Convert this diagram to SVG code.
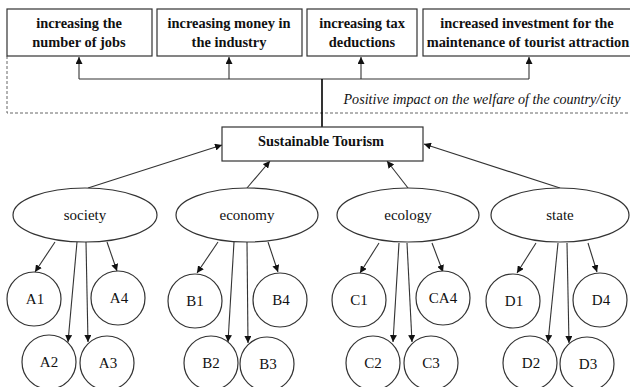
<svg xmlns="http://www.w3.org/2000/svg" width="630" height="387" viewBox="0 0 630 387">
<defs>
<style>
text{font-family:'Liberation Serif','Times New Roman','Tinos','DejaVu Serif',serif}
.box{fill:#fff;stroke:#333;stroke-width:1.2}
.bt{font-size:14.4px;font-weight:bold;text-anchor:middle;fill:#111}
.lt{font-size:15px;text-anchor:middle;fill:#111}
.it{font-size:14.1px;font-style:italic;text-anchor:middle;fill:#111}
.ln{fill:none;stroke:#333;stroke-width:1.1}
.ar{fill:none;stroke:#333;stroke-width:1.1;marker-end:url(#ah)}
</style>
<marker id="ah" viewBox="0 0 10 10" refX="10" refY="5" markerWidth="7" markerHeight="7" markerUnits="userSpaceOnUse" orient="auto">
<path d="M0,0 L10,5 L0,10 z" fill="#111"/>
</marker>
</defs>
<rect width="630" height="387" fill="#fff"/>
<path d="M7,56 V113 H630" fill="none" stroke="#666" stroke-width="1" stroke-dasharray="3,2"/>
<text class="it" x="482" y="104">Positive impact on the welfare of the country/city</text>
<g id="connectors">
<path class="ln" d="M79,79 H529"/>
<path d="M322,127 V79" fill="none" stroke="#000" stroke-width="1.6"/>
<path class="ar" d="M79,79 V57"/>
<path class="ar" d="M229,79 V57"/>
<path class="ar" d="M361,79 V57"/>
<path class="ar" d="M529,79 V57"/>
<path class="ar" d="M88,188 L222,145"/>
<path class="ar" d="M247,188 L270,161"/>
<path class="ar" d="M408,188 L387,161"/>
<path class="ar" d="M560,188 L424,144"/>
<path class="ar" d="M55,242 L35,272"/>
<path class="ar" d="M77,242 L68,342"/>
<path class="ar" d="M86,242 L88,342"/>
<path class="ar" d="M107,242 L117,271"/>
<path class="ar" d="M218,242 L197,273"/>
<path class="ar" d="M234,242 L228,342"/>
<path class="ar" d="M247,242 L248,343"/>
<path class="ar" d="M268,242 L278,272"/>
<path class="ar" d="M379,243 L360,273"/>
<path class="ar" d="M399,243 L393,342"/>
<path class="ar" d="M407,243 L412,342"/>
<path class="ar" d="M432,243 L443,272"/>
<path class="ar" d="M536,243 L517,273"/>
<path class="ar" d="M558,243 L548,342"/>
<path class="ar" d="M567,243 L569,343"/>
<path class="ar" d="M588,243 L597,272"/>
</g>
<g id="jobs"><rect class="box" x="7" y="9" width="145" height="47"/><text class="bt" x="79" y="28">increasing the</text><text class="bt" x="79" y="47">number of jobs</text></g>
<g id="money"><rect class="box" x="157" y="9" width="145" height="47"/><text class="bt" x="229" y="28">increasing money in</text><text class="bt" x="229" y="47">the industry</text></g>
<g id="tax"><rect class="box" x="307" y="9" width="110" height="47"/><text class="bt" x="362" y="28">increasing tax</text><text class="bt" x="362" y="47">deductions</text></g>
<g id="investment"><rect class="box" x="423" y="9" width="210" height="47"/><text class="bt" x="527" y="28">increased investment for the</text><text class="bt" x="528" y="47">maintenance of tourist attraction</text></g>
<g id="tourism"><rect class="box" x="222" y="127" width="201" height="34"/><text class="bt" x="321" y="146">Sustainable Tourism</text></g>
<g id="society"><ellipse class="box" cx="85" cy="215" rx="72" ry="27"/><text class="lt" x="85" y="220">society</text></g>
<g id="economy"><ellipse class="box" cx="247" cy="215" rx="71" ry="27"/><text class="lt" x="247" y="220">economy</text></g>
<g id="ecology"><ellipse class="box" cx="408" cy="215" rx="71" ry="27"/><text class="lt" x="408" y="220">ecology</text></g>
<g id="state"><ellipse class="box" cx="560" cy="215" rx="69" ry="27"/><text class="lt" x="560" y="220">state</text></g>
<g id="A1"><circle class="box" cx="34" cy="299" r="27"/><text class="lt" x="35" y="304">A1</text></g>
<g id="A4"><circle class="box" cx="118" cy="298" r="27"/><text class="lt" x="119" y="303">A4</text></g>
<g id="A2"><circle class="box" cx="49" cy="362" r="27"/><text class="lt" x="49" y="367">A2</text></g>
<g id="A3"><circle class="box" cx="107" cy="363" r="27"/><text class="lt" x="108" y="368">A3</text></g>
<g id="B1"><circle class="box" cx="195" cy="301" r="27"/><text class="lt" x="195" y="306">B1</text></g>
<g id="B4"><circle class="box" cx="280" cy="300" r="27"/><text class="lt" x="281" y="305">B4</text></g>
<g id="B2"><circle class="box" cx="211" cy="363" r="27"/><text class="lt" x="211" y="368">B2</text></g>
<g id="B3"><circle class="box" cx="267" cy="364" r="27"/><text class="lt" x="268" y="369">B3</text></g>
<g id="C1"><circle class="box" cx="359" cy="300" r="27"/><text class="lt" x="359" y="305">C1</text></g>
<g id="CA4"><circle class="box" cx="443" cy="298" r="27"/><text class="lt" x="443" y="303">CA4</text></g>
<g id="C2"><circle class="box" cx="373" cy="363" r="27"/><text class="lt" x="373" y="368">C2</text></g>
<g id="C3"><circle class="box" cx="431" cy="363" r="27"/><text class="lt" x="431" y="368">C3</text></g>
<g id="D1"><circle class="box" cx="513" cy="301" r="27"/><text class="lt" x="514" y="306">D1</text></g>
<g id="D4"><circle class="box" cx="600" cy="300" r="27"/><text class="lt" x="601" y="305">D4</text></g>
<g id="D2"><circle class="box" cx="530" cy="363" r="27"/><text class="lt" x="531" y="368">D2</text></g>
<g id="D3"><circle class="box" cx="587" cy="364" r="27"/><text class="lt" x="588" y="369">D3</text></g>
</svg>
